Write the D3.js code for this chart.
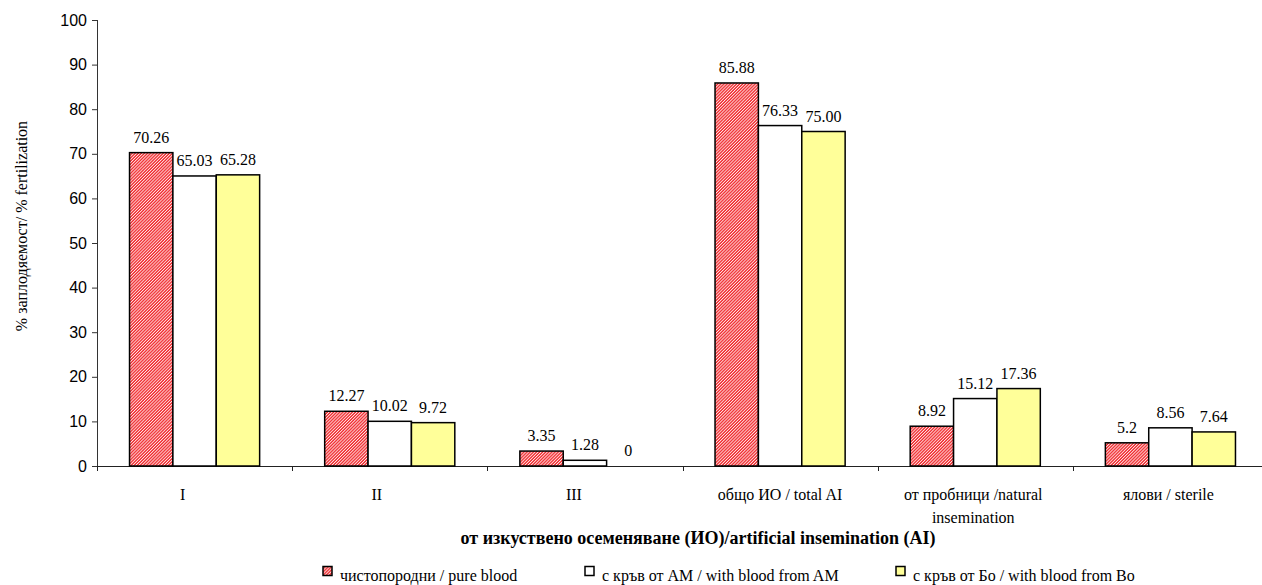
<!DOCTYPE html>
<html><head><meta charset="utf-8">
<script src="https://cdn.jsdelivr.net/npm/d3@7"></script>
<style>body{margin:0;background:#fff}svg{display:block}
.serif{font-family:"Liberation Serif","Times New Roman",serif}
.sans{font-family:"Liberation Sans",Arial,sans-serif}
</style>
</head><body>
<svg id="c" width="1262" height="585"></svg>
<script>
const categories = ["I", "II", "III", "общо ИО / total AI", "от пробници /natural insemination", "ялови / sterile"];
const categoryLines = [["I"], ["II"], ["III"], ["общо ИО / total AI"], ["от пробници /natural", "insemination"], ["ялови / sterile"]];
const seriesNames = ["чистопородни / pure blood", "с кръв от АМ / with blood from AM", "с кръв от Бо / with blood from Bo"];
const pureBlood = [70.26, 12.27, 3.35, 85.88, 8.92, 5.2];
const bloodAM = [65.03, 10.02, 1.28, 76.33, 15.12, 8.56];
const bloodBo = [65.28, 9.72, 0, 75.00, 17.36, 7.64];
const labelsPure = ["70.26", "12.27", "3.35", "85.88", "8.92", "5.2"];
const labelsAM = ["65.03", "10.02", "1.28", "76.33", "15.12", "8.56"];
const labelsBo = ["65.28", "9.72", "0", "75.00", "17.36", "7.64"];
const yTicks = [0, 10, 20, 30, 40, 50, 60, 70, 80, 90, 100];
const yTitle = "% заплодяемост/ % fertilization";
const xTitle = "от изкуствено осеменяване (ИО)/artificial insemination (AI)";

const svg = d3.select("#c");
const defs = svg.append("defs");
const pat = defs.append("pattern").attr("id", "hatch").attr("patternUnits", "userSpaceOnUse")
  .attr("width", 2.2).attr("height", 2.2).attr("patternTransform", "rotate(45)");
pat.append("rect").attr("width", 2.2).attr("height", 2.2).attr("fill", "#f0282c");
pat.append("rect").attr("width", 0.9).attr("height", 2.2).attr("fill", "#ffe6e6");

const pLeft = 97, pRight = 1268, pTop = 20, pBottom = 466;
const x0 = d3.scaleBand().domain(categories).range([pLeft, pRight]).padding(0);
const y = d3.scaleLinear().domain([0, 100]).range([pBottom, pTop]);
const bw = x0.bandwidth() * 2 / 9;
const x1 = d3.scaleBand().domain([0, 1, 2]).range([x0.bandwidth() / 6, x0.bandwidth() * 5 / 6]).padding(0);

const fills = ["url(#hatch)", "#ffffff", "#ffff99"];
const data = [pureBlood, bloodAM, bloodBo];
const labels = [labelsPure, labelsAM, labelsBo];
const labelDx = [-12, -13, -11, 0, -2, -2];

// y axis
const yAxis = svg.append("g").attr("transform", `translate(${pLeft},0)`)
  .call(d3.axisLeft(y).tickValues(yTicks).tickSize(5).tickPadding(5));
yAxis.attr("font-family", null).attr("font-size", null).attr("class", "sans");
yAxis.select(".domain").attr("stroke", "#333").attr("d", `M0.5,${pTop}V${pBottom}`);
yAxis.selectAll(".tick line").attr("stroke", "#333");
yAxis.selectAll("text").attr("font-size", 16).attr("fill", "#000");

// x axis
const xg = svg.append("g").attr("transform", `translate(0,${pBottom})`);
xg.append("line").attr("x1", pLeft).attr("x2", pRight).attr("y1", 0.5).attr("y2", 0.5).attr("stroke", "#222");
const bounds = categories.map(c => x0(c)).concat([pRight]);
xg.selectAll("line.t").data(bounds).enter().append("line").attr("class", "t")
  .attr("x1", d => Math.round(d) + 0.5).attr("x2", d => Math.round(d) + 0.5).attr("y1", 0).attr("y2", 5).attr("stroke", "#222");
categories.forEach((c, i) => {
  const cx = x0(c) + x0.bandwidth() / 2 + labelDx[i];
  const t = xg.append("text").attr("class", "serif").attr("x", cx).attr("y", 34)
    .attr("text-anchor", "middle").attr("font-size", 16);
  categoryLines[i].forEach((l, k) => t.append("tspan").attr("x", cx).attr("dy", k ? 23 : 0).text(l));
});

// bars
data.forEach((arr, s) => {
  const g = svg.append("g");
  g.selectAll("rect").data(arr).enter().append("rect")
    .attr("x", (d, i) => x0(categories[i]) + x1(s))
    .attr("y", d => y(d))
    .attr("width", bw)
    .attr("height", d => y(0) - y(d))
    .attr("fill", fills[s]).attr("stroke", "#000").attr("stroke-width", 1.5);
  g.selectAll("text").data(arr).enter().append("text").attr("class", "serif")
    .attr("x", (d, i) => x0(categories[i]) + x1(s) + bw / 2)
    .attr("y", d => y(d) - 10)
    .attr("text-anchor", "middle").attr("font-size", 16)
    .text((d, i) => labels[s][i]);
});

// titles
svg.append("text").attr("class", "serif").attr("x", 698).attr("y", 544).attr("text-anchor", "middle")
  .attr("font-size", 18).attr("font-weight", "bold").text(xTitle);
svg.append("text").attr("class", "serif").attr("transform", "translate(27,226) rotate(-90)").attr("text-anchor", "middle")
  .attr("font-size", 16).text(yTitle);

// legend
const legX = [323, 585, 896];
seriesNames.forEach((n, i) => {
  svg.append("rect").attr("x", legX[i]).attr("y", 566.5).attr("width", 9).attr("height", 9)
    .attr("fill", fills[i]).attr("stroke", "#000").attr("stroke-width", 1.5);
  svg.append("text").attr("class", "serif").attr("x", legX[i] + 17).attr("y", 581)
    .attr("font-size", 16).text(n);
});
</script>
</body></html>
